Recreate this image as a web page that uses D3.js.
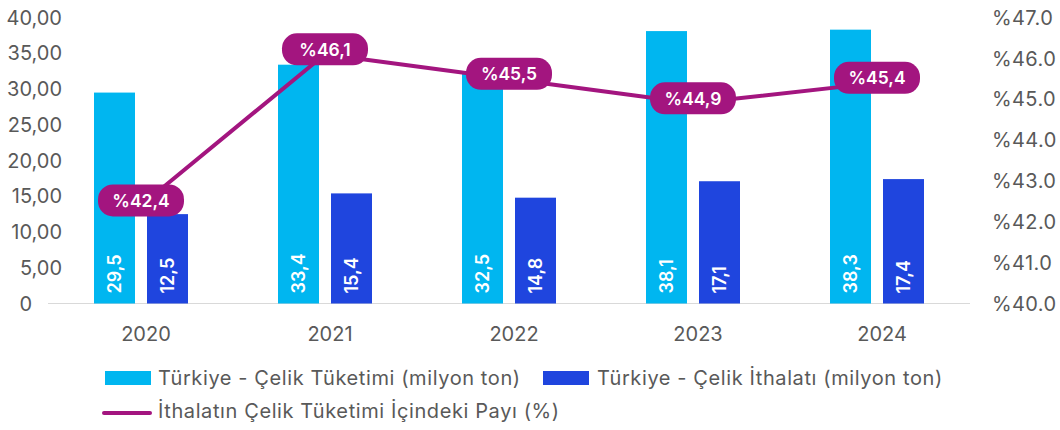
<!DOCTYPE html>
<html><head><meta charset="utf-8">
<script src="https://cdn.jsdelivr.net/npm/d3@7"></script>
<style>
body{margin:0;background:#fff;}
svg{font-family:Inter,"DejaVu Sans",sans-serif;}
</style></head>
<body><svg id="c" width="1060" height="430"></svg>
<script>
const years = ["2020","2021","2022","2023","2024"];
const consumption = [29.5, 33.4, 32.5, 38.1, 38.3];
const imports = [12.5, 15.4, 14.8, 17.1, 17.4];
const share = [42.4, 46.1, 45.5, 44.9, 45.4];
const leftTicks = [0,5,10,15,20,25,30,35,40];
const rightTicks = [40,41,42,43,44,45,46,47];
const legendLabels = ["Türkiye - Çelik Tüketimi (milyon ton)","Türkiye - Çelik İthalatı (milyon ton)","İthalatın Çelik Tüketimi İçindeki Payı (%)"];

const C1="#00B6F0", C2="#1F45DE", C3="#A3157F", TXT="#595959";
const svg=d3.select("#c");
const x=d3.scaleBand().domain(years).range([49,969]);
const y=d3.scaleLinear().domain([0,40]).range([303.5,17.5]);
const y2=d3.scaleLinear().domain([40,47]).range([303.5,17.5]);
const cx=d=>x(d)+x.bandwidth()/2;
const fmt=v=>v.toFixed(1).replace(".",",");

// left axis
svg.append("g").selectAll("text").data(leftTicks).join("text")
 .attr("x",d=>d===0?32:62).attr("y",d=>y(d)).attr("dy","0.36em").attr("text-anchor","end")
 .attr("font-size",20).attr("fill",TXT).text(d=>d===0?"0":d.toFixed(2).replace(".",","));
// right axis
svg.append("g").selectAll("text").data(rightTicks).join("text")
 .attr("x",992).attr("y",d=>y2(d)).attr("dy","0.36em").attr("text-anchor","start")
 .attr("font-size",20).attr("letter-spacing",0.4).attr("fill",TXT).text(d=>"%"+d.toFixed(1));

// baseline
svg.append("line").attr("x1",48).attr("x2",970).attr("y1",y(0)).attr("y2",y(0))
 .attr("stroke","#d9d9d9").attr("stroke-width",1.2);

// bars
const bw=41;
svg.append("g").selectAll("rect").data(years).join("rect")
 .attr("x",d=>cx(d)-47).attr("width",bw)
 .attr("y",(d,i)=>y(consumption[i])).attr("height",(d,i)=>y(0)-y(consumption[i])).attr("fill",C1);
svg.append("g").selectAll("rect").data(years).join("rect")
 .attr("x",d=>cx(d)+6).attr("width",bw)
 .attr("y",(d,i)=>y(imports[i])).attr("height",(d,i)=>y(0)-y(imports[i])).attr("fill",C2);

// bar labels
function barLabels(vals,off){
 svg.append("g").selectAll("text").data(years).join("text")
  .attr("transform",(d,i)=>`translate(${cx(d)+off},${y(0)-10}) rotate(-90)`)
  .attr("dy","0.36em").attr("text-anchor","start").attr("font-size",18).attr("font-weight",600)
  .attr("fill","#fff").text((d,i)=>fmt(vals[i]));
}
barLabels(consumption,-47+bw/2);
barLabels(imports,6+bw/2);

// year labels
svg.append("g").selectAll("text").data(years).join("text")
 .attr("x",d=>cx(d)+5).attr("y",334).attr("dy","0.36em").attr("text-anchor","middle")
 .attr("font-size",20).attr("fill",TXT).text(d=>d);

// line
const line=d3.line().x((d,i)=>cx(years[i])).y(d=>y2(d));
svg.append("path").datum(share).attr("d",line).attr("fill","none")
 .attr("stroke",C3).attr("stroke-width",4).attr("stroke-linejoin","round");

// line labels
const lg=svg.append("g").selectAll("g").data(share).join("g")
 .attr("transform",(d,i)=>`translate(${cx(years[i])},${y2(d)-5})`);
lg.append("rect").attr("x",-43).attr("y",-16).attr("width",86).attr("height",32).attr("rx",15)
 .attr("fill",C3);
lg.append("text").attr("text-anchor","middle").attr("dy","0.36em").attr("font-size",17.5)
 .attr("font-weight",600).attr("fill","#fff").text(d=>"%"+fmt(d));

// legend
const L=svg.append("g").attr("font-size",20).attr("letter-spacing",0.6).attr("fill",TXT);
L.append("rect").attr("x",105).attr("y",371).attr("width",46).attr("height",14).attr("fill",C1);
L.append("text").attr("x",158).attr("y",378).attr("dy","0.36em").text(legendLabels[0]);
L.append("rect").attr("x",543).attr("y",371).attr("width",46).attr("height",14).attr("fill",C2);
L.append("text").attr("x",597).attr("y",378).attr("dy","0.36em").text(legendLabels[1]);
L.append("line").attr("x1",104).attr("x2",150).attr("y1",413).attr("y2",413).attr("stroke",C3).attr("stroke-width",4).attr("stroke-linecap","round");
L.append("text").attr("x",158).attr("y",411).attr("dy","0.36em").text(legendLabels[2]);
</script></body></html>
